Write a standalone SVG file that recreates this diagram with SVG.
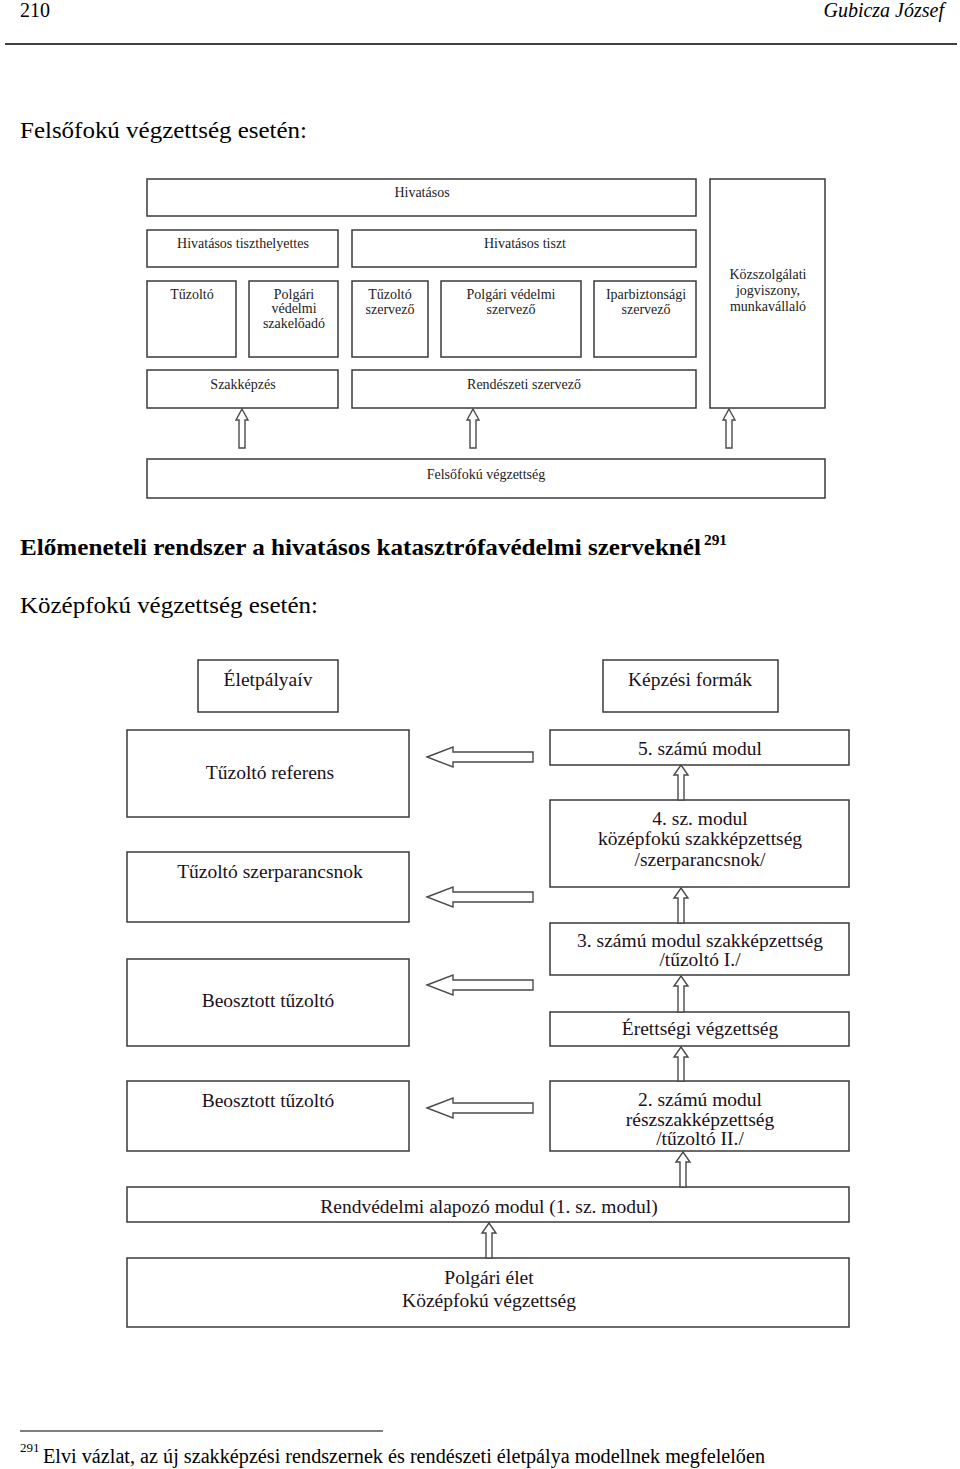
<svg xmlns="http://www.w3.org/2000/svg" width="960" height="1469" viewBox="0 0 960 1469">
<style>
.box{fill:#fff;stroke:#3a3a3a;stroke-width:1.5}
.arr{fill:#fff;stroke:#4a4a4a;stroke-width:1.4;stroke-linejoin:miter}
.t{font-family:"Liberation Serif","Times New Roman",serif;fill:#000}
.s{font-size:14px;text-anchor:middle;fill:#222}
.m{font-size:19.5px;text-anchor:middle;fill:#1a1020}
.h{font-size:24px}
</style>
<rect width="960" height="1469" fill="#fff"/>
<!-- page header -->
<g id="header">
<text class="t" x="20" y="17" font-size="20">210</text>
<text class="t" x="944" y="17" font-size="20" font-style="italic" text-anchor="end">Gubicza József</text>
<line x1="5" y1="44" x2="957" y2="44" stroke="#000" stroke-width="1.5"/>
</g>
<text class="t h" x="20" y="138" textLength="287" lengthAdjust="spacingAndGlyphs">Felsőfokú végzettség esetén:</text>

<!-- top diagram nodes -->
<g id="n-hivatasos"><rect class="box" x="147" y="179" width="549" height="37"/><text class="t s" x="422" y="197">Hivatásos</text></g>
<g id="n-kozszolg"><rect class="box" x="710" y="179" width="115" height="229"/><text class="t s" x="768" y="279">Közszolgálati</text><text class="t s" x="768" y="295">jogviszony,</text><text class="t s" x="768" y="311">munkavállaló</text></g>
<g id="n-tiszthely"><rect class="box" x="147" y="230" width="191" height="37"/><text class="t s" x="243" y="248">Hivatásos tiszthelyettes</text></g>
<g id="n-tiszt"><rect class="box" x="352" y="230" width="344" height="37"/><text class="t s" x="525" y="248">Hivatásos tiszt</text></g>
<g id="n-tuzolto1"><rect class="box" x="147" y="281" width="89" height="76"/><text class="t s" x="192" y="299">Tűzoltó</text></g>
<g id="n-polgvedszak"><rect class="box" x="249" y="281" width="89" height="76"/><text class="t s" x="294" y="299">Polgári</text><text class="t s" x="294" y="313">védelmi</text><text class="t s" x="294" y="328">szakelőadó</text></g>
<g id="n-tuzszerv"><rect class="box" x="352" y="281" width="76" height="76"/><text class="t s" x="390" y="299">Tűzoltó</text><text class="t s" x="390" y="314">szervező</text></g>
<g id="n-polgvedszerv"><rect class="box" x="441" y="281" width="140" height="76"/><text class="t s" x="511" y="299">Polgári védelmi</text><text class="t s" x="511" y="314">szervező</text></g>
<g id="n-ipar"><rect class="box" x="594" y="281" width="102" height="76"/><text class="t s" x="646" y="299">Iparbiztonsági</text><text class="t s" x="646" y="314">szervező</text></g>
<g id="n-szakkepzes"><rect class="box" x="147" y="370" width="191" height="38"/><text class="t s" x="243" y="389">Szakképzés</text></g>
<g id="n-rendszerv"><rect class="box" x="352" y="370" width="344" height="38"/><text class="t s" x="524" y="389">Rendészeti szervező</text></g>
<g id="n-felsofoku"><rect class="box" x="147" y="459" width="678" height="39"/><text class="t s" x="486" y="479">Felsőfokú végzettség</text></g>

<text class="t" x="20" y="555" font-size="24" font-weight="bold" textLength="681" lengthAdjust="spacingAndGlyphs">Előmeneteli rendszer a hivatásos katasztrófavédelmi szerveknél</text>
<text class="t" x="704" y="545" font-size="15" font-weight="bold" textLength="23" lengthAdjust="spacingAndGlyphs">291</text>
<text class="t h" x="20" y="613" textLength="298" lengthAdjust="spacingAndGlyphs">Középfokú végzettség esetén:</text>

<!-- bottom diagram nodes -->
<g id="n-eletpalya"><rect class="box" x="198" y="660" width="140" height="52"/><text class="t m" x="268" y="686">Életpályaív</text></g>
<g id="n-kepzesi"><rect class="box" x="603" y="660" width="175" height="52"/><text class="t m" x="690" y="686">Képzési formák</text></g>
<g id="n-referens"><rect class="box" x="127" y="730" width="282" height="87"/><text class="t m" x="270" y="779">Tűzoltó referens</text></g>
<g id="n-mod5"><rect class="box" x="550" y="730" width="299" height="35"/><text class="t m" x="700" y="755">5. számú modul</text></g>
<g id="n-mod4"><rect class="box" x="550" y="800" width="299" height="87"/><text class="t m" x="700" y="825">4. sz. modul</text><text class="t m" x="700" y="845">középfokú szakképzettség</text><text class="t m" x="700" y="866">/szerparancsnok/</text></g>
<g id="n-szerpar"><rect class="box" x="127" y="852" width="282" height="70"/><text class="t m" x="270" y="878">Tűzoltó szerparancsnok</text></g>
<g id="n-mod3"><rect class="box" x="550" y="923" width="299" height="52"/><text class="t m" x="700" y="947">3. számú modul szakképzettség</text><text class="t m" x="700" y="966">/tűzoltó  I./</text></g>
<g id="n-beoszt1"><rect class="box" x="127" y="959" width="282" height="87"/><text class="t m" x="268" y="1007">Beosztott tűzoltó</text></g>
<g id="n-erettsegi"><rect class="box" x="550" y="1012" width="299" height="34"/><text class="t m" x="700" y="1035">Érettségi  végzettség</text></g>
<g id="n-beoszt2"><rect class="box" x="127" y="1081" width="282" height="70"/><text class="t m" x="268" y="1107">Beosztott tűzoltó</text></g>
<g id="n-mod2"><rect class="box" x="550" y="1081" width="299" height="70"/><text class="t m" x="700" y="1106">2. számú modul</text><text class="t m" x="700" y="1126">részszakképzettség</text><text class="t m" x="700" y="1145">/tűzoltó  II./</text></g>
<g id="n-rendved"><rect class="box" x="127" y="1187" width="722" height="35"/><text class="t m" x="489" y="1213">Rendvédelmi alapozó modul (1. sz. modul)</text></g>
<g id="n-polgari"><rect class="box" x="127" y="1258" width="722" height="69"/><text class="t m" x="489" y="1284">Polgári élet</text><text class="t m" x="489" y="1307">Középfokú végzettség</text></g>

<!-- connectors -->
<g id="connectors">
<polygon class="arr" points="242,409 248,420 245,420 245,448 239,448 239,420 236,420"/>
<polygon class="arr" points="473,409 479,420 476,420 476,448 470,448 470,420 467,420"/>
<polygon class="arr" points="729,409 735,420 732,420 732,448 726,448 726,420 723,420"/>

<polygon class="arr" points="427,757 453,747 453,752 533,752 533,762 453,762 453,767"/>
<polygon class="arr" points="427,897 453,887 453,892 533,892 533,902 453,902 453,907"/>
<polygon class="arr" points="427,985 453,975 453,980 533,980 533,990 453,990 453,995"/>
<polygon class="arr" points="427,1108 453,1098 453,1103 533,1103 533,1113 453,1113 453,1118"/>

<polygon class="arr" points="681,765 688,775 684,775 684,800 678,800 678,775 674,775"/>
<polygon class="arr" points="681,888 688,898 684,898 684,923 678,923 678,898 674,898"/>
<polygon class="arr" points="681,976 688,986 684,986 684,1012 678,1012 678,986 674,986"/>
<polygon class="arr" points="681,1047 688,1057 684,1057 684,1081 678,1081 678,1057 674,1057"/>
<polygon class="arr" points="683,1152 690,1162 686,1162 686,1187 680,1187 680,1162 676,1162"/>
<polygon class="arr" points="489,1223 496,1233 492,1233 492,1258 486,1258 486,1233 482,1233"/>
</g>

<!-- footnote -->
<g id="footnote">
<line x1="20" y1="1431" x2="383" y2="1431" stroke="#000" stroke-width="1.2"/>
<text class="t" x="20" y="1452" font-size="13">291</text>
<text class="t" x="43" y="1463" font-size="20" textLength="722" lengthAdjust="spacingAndGlyphs">Elvi vázlat, az új szakképzési rendszernek és rendészeti életpálya modellnek megfelelően</text>
</g>
</svg>
